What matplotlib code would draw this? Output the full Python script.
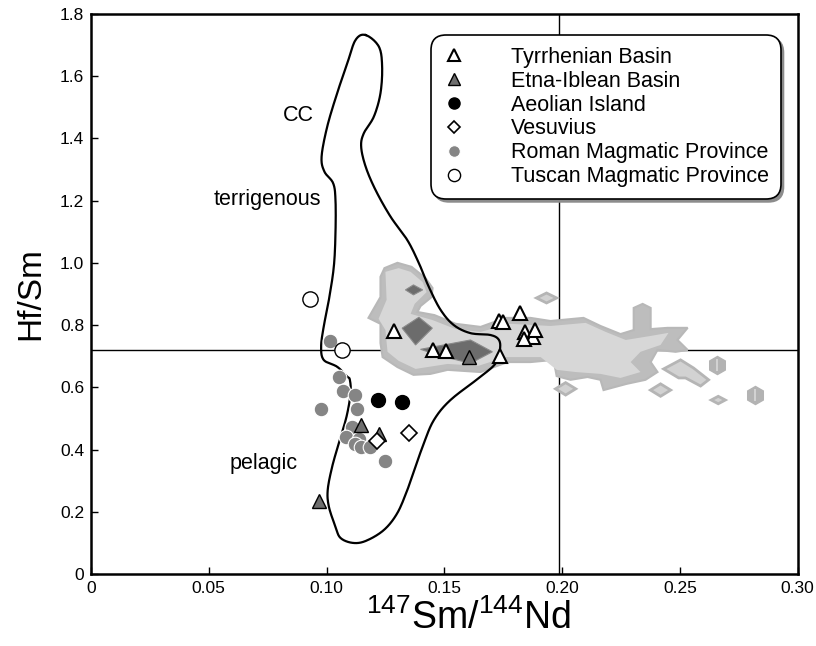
"""
Hf/Sm vs 147Sm/144Nd diagram with CC field and sample groups.
"""
import numpy as np
import matplotlib
matplotlib.use('Agg')
import matplotlib.pyplot as plt
from matplotlib.patches import Polygon

plt.rcParams['font.family'] = ['Liberation Sans', 'DejaVu Sans']
plt.rcParams['mathtext.fontset'] = 'custom'
plt.rcParams['mathtext.rm'] = 'Liberation Sans'
plt.rcParams['mathtext.default'] = 'regular'

# reference values (chondrite)
chur_smnd = 0.1985
chur_hfsm = 0.72

# continental crust field outline (closed)
cc_x = [0.1166, 0.1222, 0.1236, 0.1229, 0.1201, 0.1158, 0.1147, 0.1166, 0.1208, 0.1272,
        0.1343, 0.1392, 0.1434, 0.1484, 0.1540, 0.1611, 0.1696, 0.1732, 0.1736, 0.1718,
        0.1654, 0.1526, 0.1456, 0.1413, 0.1378, 0.1343, 0.1300, 0.1243, 0.1166, 0.1110,
        0.1059, 0.1038, 0.1010, 0.1005, 0.1024, 0.1052, 0.1085, 0.1102, 0.1099, 0.1088,
        0.1045, 0.0988, 0.0977, 0.0988, 0.1010, 0.1031, 0.1038, 0.1038, 0.1028, 0.0991,
        0.0979, 0.1003, 0.1045, 0.1088, 0.1123]
cc_y = [1.732, 1.695, 1.631, 1.545, 1.470, 1.416, 1.373, 1.309, 1.234, 1.148,
        1.073, 0.999, 0.923, 0.849, 0.800, 0.774, 0.768, 0.752, 0.720, 0.677,
        0.634, 0.559, 0.495, 0.420, 0.345, 0.270, 0.195, 0.141, 0.106, 0.100,
        0.116, 0.152, 0.216, 0.270, 0.345, 0.420, 0.506, 0.581, 0.624, 0.634,
        0.666, 0.688, 0.731, 0.795, 0.881, 0.988, 1.096, 1.202, 1.256, 1.293,
        1.341, 1.438, 1.545, 1.641, 1.716]

# density field (gray shading), outer and inner levels
field_outer_x = [0.1229, 0.1246, 0.1301, 0.1361, 0.1420, 0.1450, 0.1446, 0.1399, 0.1386, 0.1458,
                 0.1548, 0.1654, 0.1760, 0.1866, 0.1951, 0.2091, 0.2163, 0.2248, 0.2304, 0.2304,
                 0.2342, 0.2376, 0.2376, 0.2448, 0.2533, 0.2490, 0.2533, 0.2482, 0.2405, 0.2376,
                 0.2405, 0.2354, 0.2274, 0.2176, 0.2163, 0.2108, 0.2036, 0.1977, 0.1964, 0.1866,
                 0.1768, 0.1654, 0.1514, 0.1441, 0.1369, 0.1301, 0.1238, 0.1229, 0.1229, 0.1178,
                 0.1229]
field_outer_y = [0.955, 0.983, 1.000, 0.987, 0.951, 0.919, 0.890, 0.861, 0.842, 0.832,
                 0.804, 0.794, 0.823, 0.823, 0.813, 0.823, 0.797, 0.771, 0.784, 0.855,
                 0.868, 0.855, 0.787, 0.791, 0.791, 0.752, 0.720, 0.714, 0.720, 0.681,
                 0.649, 0.624, 0.611, 0.591, 0.624, 0.633, 0.624, 0.636, 0.688, 0.681,
                 0.681, 0.649, 0.656, 0.643, 0.640, 0.665, 0.697, 0.742, 0.804, 0.823,
                 0.890]
field_inner_x = [0.1250, 0.1306, 0.1357, 0.1408, 0.1425, 0.1374, 0.1357, 0.1450, 0.1548, 0.1654,
                 0.1781, 0.1951, 0.2100, 0.2185, 0.2270, 0.2376, 0.2452, 0.2418, 0.2333, 0.2291,
                 0.2333, 0.2248, 0.2163, 0.2057, 0.1977, 0.1909, 0.1760, 0.1645, 0.1514, 0.1378,
                 0.1306, 0.1259, 0.1250, 0.1221, 0.1255]
field_inner_y = [0.971, 0.983, 0.971, 0.938, 0.906, 0.868, 0.836, 0.816, 0.787, 0.778,
                 0.804, 0.797, 0.807, 0.778, 0.752, 0.765, 0.775, 0.736, 0.714, 0.681,
                 0.649, 0.630, 0.643, 0.649, 0.656, 0.697, 0.697, 0.669, 0.675, 0.659,
                 0.685, 0.714, 0.784, 0.820, 0.881]

# dark cores of the density field
core_shapes = [
    ([0.1335, 0.1369, 0.1408, 0.1369], [0.913, 0.929, 0.913, 0.897]),
    ([0.1321, 0.1392, 0.1449, 0.1378], [0.790, 0.825, 0.790, 0.736]),
    ([0.1399, 0.1611, 0.1704, 0.1611, 0.1484], [0.722, 0.752, 0.714, 0.677, 0.701]),
]

# small outlying patches of the field
patch_shapes = [
    ([0.1891, 0.1934, 0.1977, 0.1934], [0.887, 0.903, 0.887, 0.871]),
    ([0.2431, 0.2503, 0.2558, 0.2622, 0.2588, 0.2524, 0.2495], [0.659, 0.688, 0.662, 0.624, 0.604, 0.630, 0.630]),
    ([0.1972, 0.2015, 0.2058, 0.2015], [0.595, 0.615, 0.595, 0.575]),
    ([0.2375, 0.2418, 0.2461, 0.2418], [0.591, 0.611, 0.591, 0.571]),
    ([0.2633, 0.2663, 0.2693, 0.2663], [0.559, 0.571, 0.559, 0.547]),
]
hex_x = [0.2659, 0.2821]
hex_y = [0.672, 0.575]

# samples
tyr_x = [0.1285, 0.1453, 0.1508, 0.1738, 0.1731, 0.1749, 0.1820, 0.1841, 0.1875, 0.1887, 0.1838]
tyr_y = [0.782, 0.720, 0.717, 0.700, 0.813, 0.811, 0.840, 0.779, 0.763, 0.784, 0.754]
etna_x = [0.1606, 0.1147, 0.1224, 0.0969]
etna_y = [0.697, 0.479, 0.449, 0.234]
aeo_x = [0.1220, 0.1322]
aeo_y = [0.559, 0.552]
ves_x = [0.1348, 0.1215]
ves_y = [0.452, 0.4275]
roman_x = [0.1016, 0.1054, 0.1072, 0.1122, 0.1129, 0.0977, 0.1108, 0.1082, 0.1136, 0.1122,
           0.1147, 0.1186, 0.1249]
roman_y = [0.749, 0.634, 0.589, 0.575, 0.530, 0.530, 0.472, 0.439, 0.434, 0.418,
           0.407, 0.407, 0.364]
tus_x = [0.0931, 0.1066]
tus_y = [0.884, 0.719]

field_labels = ['CC', 'terrigenous', 'pelagic']
field_label_x = [0.0881, 0.0749, 0.0732]
field_label_y = [1.472, 1.202, 0.354]

xticks = [0, 0.05, 0.10, 0.15, 0.20, 0.25, 0.30]
xtick_labels = ['0', '0.05', '0.10', '0.15', '0.20', '0.25', '0.30']
yticks = [0, 0.2, 0.4, 0.6, 0.8, 1.0, 1.2, 1.4, 1.6, 1.8]
ytick_labels = ['0', '0.2', '0.4', '0.6', '0.8', '1.0', '1.2', '1.4', '1.6', '1.8']


def closed_spline(x, y, n=12):
    # Catmull-Rom through the traced points, closed loop
    p = np.column_stack([x, y])
    m = len(p)
    out = []
    t = np.linspace(0, 1, n, endpoint=False)[:, None]
    for i in range(m):
        p0, p1, p2, p3 = p[i - 1], p[i], p[(i + 1) % m], p[(i + 2) % m]
        seg = 0.5 * ((2 * p1) + (-p0 + p2) * t + (2 * p0 - 5 * p1 + 4 * p2 - p3) * t ** 2
                     + (-p0 + 3 * p1 - 3 * p2 + p3) * t ** 3)
        out.append(seg)
    out = np.vstack(out)
    out = np.vstack([out, out[:1]])
    return out[:, 0], out[:, 1]


fig = plt.figure(figsize=(8.16, 6.46), dpi=100)
ax = fig.add_axes([0.1115, 0.1115, 0.8660, 0.8670])

# reference lines go under the shading
ax.axhline(chur_hfsm, color='black', lw=1.0, zorder=1)
ax.axvline(chur_smnd, color='black', lw=1.0, zorder=1)

# gray density field
ax.add_patch(Polygon(np.column_stack([field_outer_x, field_outer_y]), closed=True,
                     facecolor='#bdbdbd', edgecolor='#b8b8b8', lw=1.5, zorder=2))
ax.add_patch(Polygon(np.column_stack([field_inner_x, field_inner_y]), closed=True,
                     facecolor='#d7d7d7', edgecolor='none', zorder=2.1))
for sx, sy in patch_shapes:
    ax.add_patch(Polygon(np.column_stack([sx, sy]), closed=True,
                         facecolor='#d2d2d2', edgecolor='#b5b5b5', lw=2.0, zorder=2.1))
for sx, sy in core_shapes:
    ax.add_patch(Polygon(np.column_stack([sx, sy]), closed=True,
                         facecolor='#6c6c6c', edgecolor='#8a8a8a', lw=0.8, zorder=2.2))
ax.plot(hex_x, hex_y, 'h', ms=13, color='#b3b3b3', mec='#b3b3b3', zorder=2.2)
ax.plot(hex_x, hex_y, '|', ms=9, color='#d9d9d9', mew=1.2, zorder=2.3)

# CC outline
sx, sy = closed_spline(cc_x, cc_y)
ax.plot(sx, sy, color='black', lw=1.6, zorder=3)

for lab, lx, ly in zip(field_labels, field_label_x, field_label_y):
    ax.text(lx, ly, lab, fontsize=15.5, ha='center', va='center', zorder=3)

# samples
ax.plot(tyr_x, tyr_y, '^', ms=10, mfc='white', mec='black', mew=1.5, ls='none',
        label='Tyrrhenian Basin', zorder=5)
ax.plot(etna_x, etna_y, '^', ms=10, mfc='#6e6e6e', mec='black', mew=1.0, ls='none',
        label='Etna-Iblean Basin', zorder=5)
ax.plot(aeo_x, aeo_y, 'o', ms=10, mfc='black', mec='black', ls='none',
        label='Aeolian Island', zorder=5)
ax.plot(ves_x, ves_y, 'D', ms=8, mfc='white', mec='black', mew=1.2, ls='none',
        label='Vesuvius', zorder=5)
ax.plot(roman_x, roman_y, 'o', ms=10.5, mfc='#858585', mec='white', mew=0.8, ls='none',
        label='Roman Magmatic Province', zorder=4)
ax.plot(tus_x, tus_y, 'o', ms=11, mfc='white', mec='black', mew=1.0, ls='none',
        label='Tuscan Magmatic Province', zorder=5)

ax.set_xlim(0, 0.30)
ax.set_ylim(0, 1.8)
ax.set_xticks(xticks)
ax.set_xticklabels(xtick_labels)
ax.set_yticks(yticks)
ax.set_yticklabels(ytick_labels)
ax.tick_params(direction='in', length=5, width=1, labelsize=12.5, pad=5)
for sp in ax.spines.values():
    sp.set_linewidth(1.8)

ax.set_xlabel(r'$^{147}$Sm/$^{144}$Nd', fontsize=27, labelpad=4)
ax.xaxis.set_label_coords(0.534, -0.045, transform=ax.transAxes)
ax.xaxis.label.set_va('top')
ax.set_ylabel('Hf/Sm', fontsize=24, labelpad=10)

leg = ax.legend(loc='upper right', bbox_to_anchor=(0.976, 0.9625), borderaxespad=0,
                fontsize=15.5, markerscale=0.8, handlelength=1.0, handletextpad=2.15,
                labelspacing=0.135, borderpad=0.55, fancybox=True,
                shadow={'color': '#8c8c8c', 'alpha': 1}, framealpha=1, edgecolor='black')
leg.get_frame().set_linewidth(1.2)
leg.get_frame().set_boxstyle('round', pad=0, rounding_size=0.7)
leg.set_zorder(10)

fig.savefig('out.png', dpi=100)
